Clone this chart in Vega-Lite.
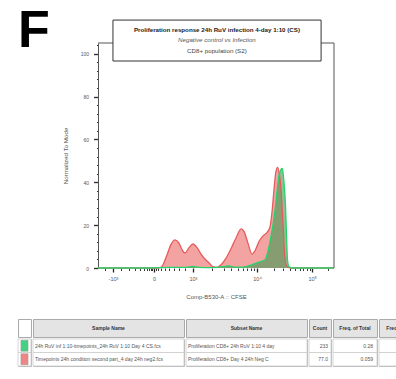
{
  "$schema": "https://vega.github.io/schema/vega-lite/v6.json",
  "padding": {"left": 17, "top": 5, "right": 0, "bottom": 0},
  "config": {"font": "Liberation Sans", "view": {"stroke": null}},
  "datasets": {
    "hist": [
      {"sample": "Negative control", "ch": 0, "v": 0},
      {"sample": "Negative control", "ch": 230, "v": 0},
      {"sample": "Negative control", "ch": 251, "v": 0},
      {"sample": "Negative control", "ch": 273, "v": 0.3},
      {"sample": "Negative control", "ch": 282, "v": 1.5},
      {"sample": "Negative control", "ch": 299, "v": 6},
      {"sample": "Negative control", "ch": 317, "v": 11},
      {"sample": "Negative control", "ch": 334, "v": 13.1},
      {"sample": "Negative control", "ch": 352, "v": 11.5},
      {"sample": "Negative control", "ch": 365, "v": 8.5},
      {"sample": "Negative control", "ch": 378, "v": 7},
      {"sample": "Negative control", "ch": 395, "v": 9.5},
      {"sample": "Negative control", "ch": 412, "v": 11.2},
      {"sample": "Negative control", "ch": 430, "v": 9.5},
      {"sample": "Negative control", "ch": 447, "v": 6.5},
      {"sample": "Negative control", "ch": 464, "v": 4.2},
      {"sample": "Negative control", "ch": 482, "v": 2.3},
      {"sample": "Negative control", "ch": 499, "v": 0.6},
      {"sample": "Negative control", "ch": 516, "v": 0.3},
      {"sample": "Negative control", "ch": 534, "v": 1.5},
      {"sample": "Negative control", "ch": 555, "v": 4.5},
      {"sample": "Negative control", "ch": 577, "v": 9},
      {"sample": "Negative control", "ch": 599, "v": 14},
      {"sample": "Negative control", "ch": 621, "v": 18.3},
      {"sample": "Negative control", "ch": 634, "v": 17},
      {"sample": "Negative control", "ch": 651, "v": 11.5},
      {"sample": "Negative control", "ch": 668, "v": 6.5},
      {"sample": "Negative control", "ch": 681, "v": 8},
      {"sample": "Negative control", "ch": 699, "v": 12.5},
      {"sample": "Negative control", "ch": 716, "v": 15},
      {"sample": "Negative control", "ch": 733, "v": 16.5},
      {"sample": "Negative control", "ch": 746, "v": 19},
      {"sample": "Negative control", "ch": 755, "v": 26},
      {"sample": "Negative control", "ch": 764, "v": 37},
      {"sample": "Negative control", "ch": 772, "v": 45},
      {"sample": "Negative control", "ch": 779, "v": 47},
      {"sample": "Negative control", "ch": 785, "v": 45},
      {"sample": "Negative control", "ch": 794, "v": 37},
      {"sample": "Negative control", "ch": 803, "v": 20},
      {"sample": "Negative control", "ch": 811, "v": 5},
      {"sample": "Negative control", "ch": 820, "v": 0.8},
      {"sample": "Negative control", "ch": 837, "v": 0},
      {"sample": "Negative control", "ch": 1024, "v": 0},
      {"sample": "Infection", "ch": 0, "v": 0},
      {"sample": "Infection", "ch": 230, "v": 0},
      {"sample": "Infection", "ch": 317, "v": 0.3},
      {"sample": "Infection", "ch": 382, "v": 0.3},
      {"sample": "Infection", "ch": 412, "v": 0.7},
      {"sample": "Infection", "ch": 438, "v": 0.3},
      {"sample": "Infection", "ch": 490, "v": 0.2},
      {"sample": "Infection", "ch": 542, "v": 0.6},
      {"sample": "Infection", "ch": 568, "v": 1.0},
      {"sample": "Infection", "ch": 594, "v": 0.4},
      {"sample": "Infection", "ch": 621, "v": 0.4},
      {"sample": "Infection", "ch": 647, "v": 0.8},
      {"sample": "Infection", "ch": 664, "v": 1.3},
      {"sample": "Infection", "ch": 686, "v": 2.3},
      {"sample": "Infection", "ch": 707, "v": 3.0},
      {"sample": "Infection", "ch": 725, "v": 3.8},
      {"sample": "Infection", "ch": 733, "v": 6},
      {"sample": "Infection", "ch": 742, "v": 10},
      {"sample": "Infection", "ch": 751, "v": 15},
      {"sample": "Infection", "ch": 759, "v": 20},
      {"sample": "Infection", "ch": 768, "v": 27},
      {"sample": "Infection", "ch": 777, "v": 36},
      {"sample": "Infection", "ch": 785, "v": 43},
      {"sample": "Infection", "ch": 794, "v": 46},
      {"sample": "Infection", "ch": 800, "v": 46.5},
      {"sample": "Infection", "ch": 807, "v": 40},
      {"sample": "Infection", "ch": 814, "v": 28},
      {"sample": "Infection", "ch": 818, "v": 15},
      {"sample": "Infection", "ch": 822, "v": 4},
      {"sample": "Infection", "ch": 829, "v": 0.5},
      {"sample": "Infection", "ch": 846, "v": 0},
      {"sample": "Infection", "ch": 1024, "v": 0}
    ],
    "samples": [
      {"row": "1", "sample": "24h RuV inf 1:10-timepoints_24h RuV 1:10 Day 4 CS.fcs", "subset": "Proliferation CD8+ 24h RuV 1:10 4 day", "count": "233", "freq": "0.28"},
      {"row": "2", "sample": "Timepoints 24h condition second part_4 day 24h neg2.fcs", "subset": "Proliferation CD8+ Day 4 24h Neg C", "count": "77.0", "freq": "0.059"}
    ]
  },
  "columns": 1,
  "spacing": 18,
  "concat": [
    {
      "width": 316,
      "height": 225,
      "resolve": {"axis": {"x": "independent", "y": "independent"}},
      "layer": [
        {
          "data": {"name": "hist"},
          "transform": [{"filter": "datum.sample == 'Negative control'"}],
          "mark": {"type": "area", "interpolate": "monotone", "color": "#f4a3a3", "opacity": 1},
          "encoding": {
            "x": {
              "field": "ch", "type": "quantitative",
              "scale": {"domain": [-347, 1024], "nice": false, "zero": false},
              "axis": {
                "title": "Comp-B530-A :: CFSE",
                "titleX": 198,
                "values": [30, 65, 100, 134, 160, 182, 200, 213, 221, 230, 236, 243, 252, 260, 273, 291, 308, 330, 351, 377, 412, 495, 545, 579, 606, 628, 646, 663, 677, 690, 762, 803, 833, 856, 875, 891, 905, 918, 929, 1000],
                "labelExpr": "datum.value == 65 ? '-10³' : datum.value == 243 ? '0' : datum.value == 412 ? '10³' : datum.value == 690 ? '10⁴' : datum.value == 929 ? '10⁵' : ''",
                "labelOverlap": false,
                "labelFontSize": 5.5,
                "labelColor": "#555",
                "labelPadding": 4,
                "tickColor": "#222",
                "tickSize": 4,
                "tickDash": {"condition": {"test": "indexof([65,243,412,690,929], datum.value) >= 0", "value": []}, "value": [2.5, 10]},
                "tickWidth": {"condition": {"test": "indexof([65,243,412,690,929], datum.value) >= 0", "value": 1.3}, "value": 0.9},
                "domain": false,
                "grid": false,
                "titleFontSize": 6,
                "titleFontWeight": "normal",
                "titleColor": "#555",
                "titlePadding": 12
              }
            },
            "y": {
              "field": "v", "type": "quantitative",
              "scale": {"domain": [0, 105], "nice": false},
              "axis": {
                "title": "Normalized To Mode",
                "offset": -80,
                "values": [0, 4, 8, 12, 16, 20, 24, 28, 32, 36, 40, 44, 48, 52, 56, 60, 64, 68, 72, 76, 80, 84, 88, 92, 96, 100, 104],
                "labelExpr": "datum.value % 20 == 0 ? datum.label : ''",
                "labelOverlap": false,
                "labelFontSize": 5,
                "labelColor": "#555",
                "labelPadding": 5,
                "tickColor": "#333",
                "tickSize": 4.5,
                "tickDash": {"condition": {"test": "datum.value % 20 == 0", "value": []}, "value": [1.5, 10]},
                "tickWidth": {"condition": {"test": "datum.value % 20 == 0", "value": 1.4}, "value": 1},
                "domain": true,
                "domainColor": "#555",
                "grid": false,
                "titleFontSize": 6.2,
                "titleFontWeight": "normal",
                "titleColor": "#555",
                "titlePadding": 12
              }
            }
          }
        },
        {
          "data": {"name": "hist"},
          "transform": [{"filter": "datum.sample == 'Infection'"}],
          "mark": {"type": "area", "interpolate": "monotone", "color": "#3a9a50", "opacity": 0.6},
          "encoding": {"x": {"field": "ch", "type": "quantitative", "axis": null}, "y": {"field": "v", "type": "quantitative", "axis": null}}
        },
        {
          "data": {"name": "hist"},
          "transform": [{"filter": "datum.sample == 'Negative control'"}],
          "mark": {"type": "line", "interpolate": "monotone", "color": "#e65c5c", "strokeWidth": 1.3},
          "encoding": {"x": {"field": "ch", "type": "quantitative", "axis": null}, "y": {"field": "v", "type": "quantitative", "axis": null}}
        },
        {
          "data": {"name": "hist"},
          "transform": [{"filter": "datum.sample == 'Infection'"}],
          "mark": {"type": "line", "interpolate": "monotone", "color": "#26d36a", "strokeWidth": 1.3},
          "encoding": {"x": {"field": "ch", "type": "quantitative", "axis": null}, "y": {"field": "v", "type": "quantitative", "axis": null}}
        },
        {
          "data": {"values": [{"t": "top frame"}]},
          "mark": {"type": "rule", "color": "#555", "strokeWidth": 1},
          "encoding": {
            "x": {"datum": 0, "type": "quantitative", "axis": null},
            "x2": {"datum": 1024},
            "y": {"datum": 105, "type": "quantitative", "axis": null}
          }
        },
        {
          "data": {"values": [{"t": "right frame"}]},
          "mark": {"type": "rule", "color": "#555", "strokeWidth": 1},
          "encoding": {
            "x": {"datum": 1024, "type": "quantitative", "axis": null},
            "y": {"datum": 0, "type": "quantitative", "axis": null},
            "y2": {"datum": 105}
          }
        },
        {
          "data": {"values": [{"t": "box"}]},
          "mark": {"type": "rect", "fill": "white", "stroke": "#333", "strokeWidth": 1},
          "encoding": {
            "x": {"datum": 65, "type": "quantitative", "axis": null},
            "x2": {"datum": 968},
            "y": {"datum": 115.7, "type": "quantitative", "axis": null},
            "y2": {"datum": 96.6}
          }
        },
        {
          "data": {"values": [{"t": "Proliferation response 24h RuV infection 4-day 1:10 (CS)"}]},
          "mark": {"type": "text", "fontSize": 6.2, "fontWeight": "bold", "color": "#222", "baseline": "middle"},
          "encoding": {
            "x": {"datum": 516, "type": "quantitative", "axis": null},
            "y": {"datum": 111.1, "type": "quantitative", "axis": null},
            "text": {"field": "t"}
          }
        },
        {
          "data": {"values": [{"t": "Negative control vs Infection"}]},
          "mark": {"type": "text", "fontSize": 6.2, "fontStyle": "italic", "color": "#555", "baseline": "middle"},
          "encoding": {
            "x": {"datum": 516, "type": "quantitative", "axis": null},
            "y": {"datum": 106.4, "type": "quantitative", "axis": null},
            "text": {"field": "t"}
          }
        },
        {
          "data": {"values": [{"t": "CD8+ population (S2)"}]},
          "mark": {"type": "text", "fontSize": 6.2, "color": "#444", "baseline": "middle"},
          "encoding": {
            "x": {"datum": 516, "type": "quantitative", "axis": null},
            "y": {"datum": 101.5, "type": "quantitative", "axis": null},
            "text": {"field": "t"}
          }
        },
        {
          "data": {"values": [{"t": "F"}]},
          "mark": {"type": "text", "fontSize": 52, "fontWeight": "bold", "color": "#000", "align": "left", "baseline": "alphabetic"},
          "encoding": {
            "x": {"datum": -347, "type": "quantitative", "axis": null},
            "y": {"datum": 103.1, "type": "quantitative", "axis": null},
            "text": {"field": "t"}
          }
        }
      ]
    },
    {
      "spacing": 0,
      "vconcat": [
        {
          "spacing": 0,
          "hconcat": [
            {"width": 13, "height": 18, "data": {"values": [{"h": ""}]}, "view": {"stroke": "#aaa", "fill": "white"}, "mark": {"type": "text", "fontSize": 5}, "encoding": {"text": {"field": "h"}}},
            {"width": 151, "height": 18, "data": {"values": [{"h": "Sample Name"}]}, "view": {"stroke": "#aaa", "fill": "#e4e4e4"}, "mark": {"type": "text", "fontSize": 5, "fontWeight": "bold", "color": "#333"}, "encoding": {"text": {"field": "h"}}},
            {"width": 121, "height": 18, "data": {"values": [{"h": "Subset Name"}]}, "view": {"stroke": "#aaa", "fill": "#e4e4e4"}, "mark": {"type": "text", "fontSize": 5, "fontWeight": "bold", "color": "#333"}, "encoding": {"text": {"field": "h"}}},
            {"width": 22, "height": 18, "data": {"values": [{"h": "Count"}]}, "view": {"stroke": "#aaa", "fill": "#e4e4e4"}, "mark": {"type": "text", "fontSize": 5, "fontWeight": "bold", "color": "#333"}, "encoding": {"text": {"field": "h"}}},
            {"width": 44, "height": 18, "data": {"values": [{"h": "Freq. of Total"}]}, "view": {"stroke": "#aaa", "fill": "#e4e4e4"}, "mark": {"type": "text", "fontSize": 5, "fontWeight": "bold", "color": "#333"}, "encoding": {"text": {"field": "h"}}},
            {"width": 50, "height": 18, "data": {"values": [{"h": "Freq. of Parent"}]}, "view": {"stroke": "#aaa", "fill": "#e4e4e4"}, "mark": {"type": "text", "fontSize": 5, "fontWeight": "bold", "color": "#333"}, "encoding": {"text": {"field": "h"}}}
          ]
        },
        {
          "spacing": 0,
          "hconcat": [
            {
              "width": 13, "height": 27, "data": {"name": "samples"}, "view": {"stroke": "#bbb"},
              "layer": [
                {"mark": {"type": "rect", "fill": "white", "stroke": "#ccc", "strokeWidth": 0.8}, "encoding": {"y": {"field": "row", "type": "ordinal", "scale": {"type": "band", "paddingInner": 0, "paddingOuter": 0}, "axis": null}}},
                {"mark": {"type": "point", "shape": "M-0.65,-1H0.65V1H-0.65Z", "filled": true, "opacity": 1, "size": 121, "stroke": "#999", "strokeWidth": 0.5}, "encoding": {"y": {"field": "row", "type": "ordinal", "scale": {"type": "band"}, "axis": null}, "fill": {"field": "row", "type": "nominal", "scale": {"domain": ["1", "2"], "range": ["#45d184", "#f08585"]}, "legend": null}}}
              ]
            },
            {
              "width": 151, "height": 27, "data": {"name": "samples"}, "view": {"stroke": "#bbb"},
              "layer": [
                {"mark": {"type": "rect", "fill": "white", "stroke": "#ccc", "strokeWidth": 0.8}, "encoding": {"y": {"field": "row", "type": "ordinal", "scale": {"type": "band", "paddingInner": 0, "paddingOuter": 0}, "axis": null}}},
                {"mark": {"type": "text", "align": "left", "dx": 2, "fontSize": 5, "color": "#555"}, "encoding": {"y": {"field": "row", "type": "ordinal", "scale": {"type": "band"}, "axis": null}, "x": {"datum": 0, "type": "quantitative", "scale": {"domain": [0, 1]}, "axis": null}, "text": {"field": "sample"}}}
              ]
            },
            {
              "width": 121, "height": 27, "data": {"name": "samples"}, "view": {"stroke": "#bbb"},
              "layer": [
                {"mark": {"type": "rect", "fill": "white", "stroke": "#ccc", "strokeWidth": 0.8}, "encoding": {"y": {"field": "row", "type": "ordinal", "scale": {"type": "band", "paddingInner": 0, "paddingOuter": 0}, "axis": null}}},
                {"mark": {"type": "text", "align": "left", "dx": 2, "fontSize": 5, "color": "#555"}, "encoding": {"y": {"field": "row", "type": "ordinal", "scale": {"type": "band"}, "axis": null}, "x": {"datum": 0, "type": "quantitative", "scale": {"domain": [0, 1]}, "axis": null}, "text": {"field": "subset"}}}
              ]
            },
            {
              "width": 22, "height": 27, "data": {"name": "samples"}, "view": {"stroke": "#bbb"},
              "layer": [
                {"mark": {"type": "rect", "fill": "white", "stroke": "#ccc", "strokeWidth": 0.8}, "encoding": {"y": {"field": "row", "type": "ordinal", "scale": {"type": "band", "paddingInner": 0, "paddingOuter": 0}, "axis": null}}},
                {"mark": {"type": "text", "align": "right", "dx": -3, "fontSize": 5, "color": "#555"}, "encoding": {"y": {"field": "row", "type": "ordinal", "scale": {"type": "band"}, "axis": null}, "x": {"datum": 1, "type": "quantitative", "scale": {"domain": [0, 1]}, "axis": null}, "text": {"field": "count"}}}
              ]
            },
            {
              "width": 44, "height": 27, "data": {"name": "samples"}, "view": {"stroke": "#bbb"},
              "layer": [
                {"mark": {"type": "rect", "fill": "white", "stroke": "#ccc", "strokeWidth": 0.8}, "encoding": {"y": {"field": "row", "type": "ordinal", "scale": {"type": "band", "paddingInner": 0, "paddingOuter": 0}, "axis": null}}},
                {"mark": {"type": "text", "align": "right", "dx": -4, "fontSize": 5, "color": "#555"}, "encoding": {"y": {"field": "row", "type": "ordinal", "scale": {"type": "band"}, "axis": null}, "x": {"datum": 1, "type": "quantitative", "scale": {"domain": [0, 1]}, "axis": null}, "text": {"field": "freq"}}}
              ]
            },
            {
              "width": 50, "height": 27, "data": {"name": "samples"}, "view": {"stroke": "#bbb"},
              "mark": {"type": "rect", "fill": "white", "stroke": "#ccc", "strokeWidth": 0.8},
              "encoding": {"y": {"field": "row", "type": "ordinal", "scale": {"type": "band", "paddingInner": 0, "paddingOuter": 0}, "axis": null}}
            }
          ]
        }
      ]
    }
  ]
}
